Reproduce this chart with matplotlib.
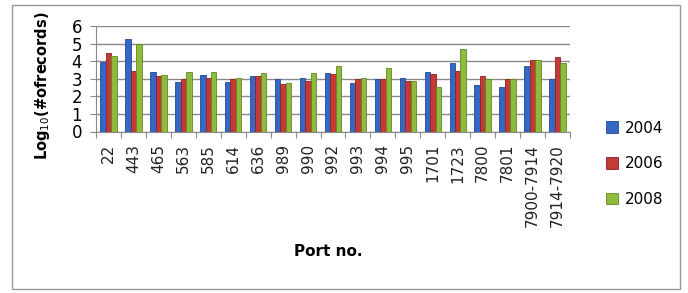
#!/usr/bin/env python3
import numpy as np
from matplotlib import pyplot as plt
from matplotlib.patches import Rectangle

ports = ['22', '443', '465', '563', '585', '614', '636', '989', '990', '992',
         '993', '994', '995', '1701', '1723', '7800', '7801', '7900-7914', '7914-7920']
y2004 = [3.95, 5.25, 3.4, 2.8, 3.2, 2.8, 3.15, 2.96, 3.05, 3.34,
         2.75, 2.96, 3.05, 3.4, 3.9, 2.65, 2.55, 3.7, 2.96]
y2006 = [4.45, 3.45, 3.15, 2.96, 3.05, 2.96, 3.15, 2.7, 2.85, 3.25,
         2.96, 2.96, 2.87, 3.25, 3.45, 3.15, 2.96, 4.05, 4.22]
y2008 = [4.3, 4.98, 3.2, 3.4, 3.4, 3.05, 3.33, 2.73, 3.35, 3.7,
         3.05, 3.6, 2.88, 2.55, 4.72, 2.96, 2.96, 4.05, 3.88]
years = ['2004', '2006', '2008']
colors = ['#3568c4', '#c33a36', '#8fba3e']
edges = ['#1f4a96', '#8c2321', '#5f8a22']

fig = plt.figure(figsize=(6.88, 2.93), dpi=100)
fig.patches.append(Rectangle((12/688, 4/293), 668/688, 284/293, transform=fig.transFigure,
                             fill=False, edgecolor='#9a9a9a', lw=1))

ax = fig.add_axes([96/688, 1-131.5/293, 474/688, 105.5/293])
x = np.arange(len(ports))
w = 0.22
for i, (vals, c, ec, lab) in enumerate(zip([y2004, y2006, y2008], colors, edges, years)):
    ax.bar(x + (i-1)*w, vals, w, color=c, edgecolor=ec, lw=0.6, label=lab, zorder=3)

ax.set_xlim(-0.5, len(ports)-0.5)
ax.set_ylim(0, 6)
ax.set_yticks(range(7))
ax.yaxis.grid(True, color='#8a8a8a', lw=1)
ax.set_axisbelow(True)
for s in ['top', 'right']:
    ax.spines[s].set_visible(False)
for s in ['left', 'bottom']:
    ax.spines[s].set_color('#8a8a8a')
ax.set_xticks(np.arange(len(ports)+1) - 0.5)
ax.set_xticklabels([])
ax.tick_params(axis='x', which='major', direction='out', length=4, color='#8a8a8a')
ax.set_xticks(x, minor=True)
ax.set_xticklabels(ports, minor=True, rotation=90, fontsize=11, color='#222222')
ax.tick_params(axis='x', which='minor', length=0, pad=9)
ax.tick_params(axis='y', direction='out', length=4, color='#8a8a8a', labelsize=12, pad=6)

ax.set_xlabel('Port no.', fontsize=11, fontweight='bold')
ax.xaxis.set_label_coords(0.49, -1.07)
ax.set_ylabel(r'Log$_{10}$(#ofrecords)', fontsize=10.5, fontweight='bold')
ax.yaxis.set_label_coords(-0.093, 0.43)

fig.legend(loc='upper left', bbox_to_anchor=(598/688, 1-113/293), frameon=False,
           fontsize=11, handlelength=0.8, handleheight=0.8, handletextpad=0.45,
           labelspacing=1.35, borderpad=0)

fig.savefig('out.png', dpi=100)
